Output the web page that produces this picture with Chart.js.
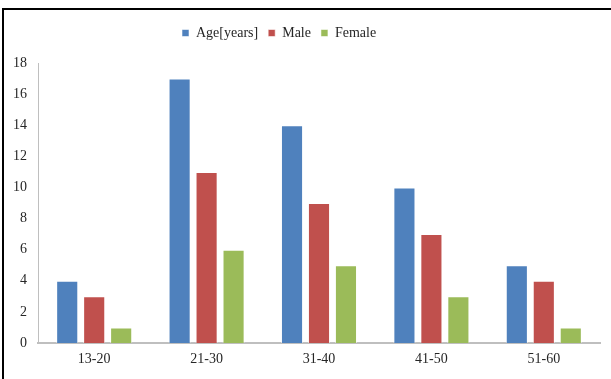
<!DOCTYPE html>
<html>
<head>
<meta charset="utf-8">
<script src="https://cdn.jsdelivr.net/npm/chart.js@4"></script>
<style>
  html, body { margin: 0; padding: 0; background: #fff; }
  #wrap { position: relative; width: 611px; height: 379px; overflow: hidden; }
  #frame { position: absolute; left: 2px; top: 8px; width: 700px; height: 500px;
           border-left: 2px solid #000; border-top: 2px solid #000; }
  #c { position: absolute; left: 0; top: 0; }
</style>
</head>
<body>
<div id="wrap">
  <div id="frame"></div>
  <canvas id="c" width="611" height="379"></canvas>
</div>
<script>
// Age groups and counts per group
const categories = ['13-20', '21-30', '31-40', '41-50', '51-60'];
const ageYears = [4, 17, 14, 10, 5];
const male = [3, 11, 9, 7, 4];
const female = [1, 6, 5, 3, 1];
const yTicks = [0, 2, 4, 6, 8, 10, 12, 14, 16, 18];

const textColor = '#262626';
const axisColor = '#bfbfbf';
const serifFamily = '"Liberation Serif", "Times New Roman", serif';
const tickFont = { family: serifFamily, size: 14 };
const legendFont = { family: serifFamily, size: 14 };

// Extra room under the legend, and the legend row starts left of centre
const legendPlacement = {
  id: 'legendPlacement',
  beforeInit(chart) {
    const lg = chart.legend;
    if (!lg) return;
    const fit = lg.fit;
    lg.fit = function () {
      fit.call(this);
      this.height += 13;
    };
  },
  afterLayout(chart) {
    const lg = chart.legend;
    if (!lg) return;
    const pad = lg.options.labels.padding;
    const w = lg.right - lg.left;
    lg.left = 182 - pad;
    lg.right = lg.left + w;
  }
};

function bar(label, data, color) {
  return {
    label, data,
    backgroundColor: color,
    borderColor: 'rgba(255,255,255,0.55)',
    borderWidth: 1,
    categoryPercentage: 0.72,
    barPercentage: 0.82
  };
}

new Chart(document.getElementById('c'), {
  type: 'bar',
  data: {
    labels: categories,
    datasets: [
      bar('Age[years]', ageYears, '#4F81BD'),
      bar('Male', male, '#C0504D'),
      bar('Female', female, '#9BBB59')
    ]
  },
  plugins: [legendPlacement],
  options: {
    responsive: false,
    animation: false,
    devicePixelRatio: 1,
    layout: { padding: { top: 16, left: 0, right: 11, bottom: 0 } },
    plugins: {
      tooltip: { enabled: false },
      legend: {
        position: 'top',
        align: 'start',
        labels: {
          boxWidth: 7, boxHeight: 7, padding: 10,
          color: textColor, font: legendFont
        }
      }
    },
    scales: {
      x: {
        grid: { display: false, drawTicks: false },
        border: { display: true, color: axisColor, width: 2 },
        ticks: { color: textColor, font: tickFont, padding: 8, maxRotation: 0 },
        afterFit(s) { s.height = 36; }
      },
      y: {
        min: 0, max: 18,
        afterBuildTicks(s) { s.ticks = yTicks.map(v => ({ value: v })); },
        grid: { display: false, drawTicks: false },
        border: { display: true, color: axisColor, width: 1 },
        ticks: { color: textColor, font: tickFont, padding: 11 },
        afterFit(s) { s.width = 38; }
      }
    }
  }
});
</script>
</body>
</html>
